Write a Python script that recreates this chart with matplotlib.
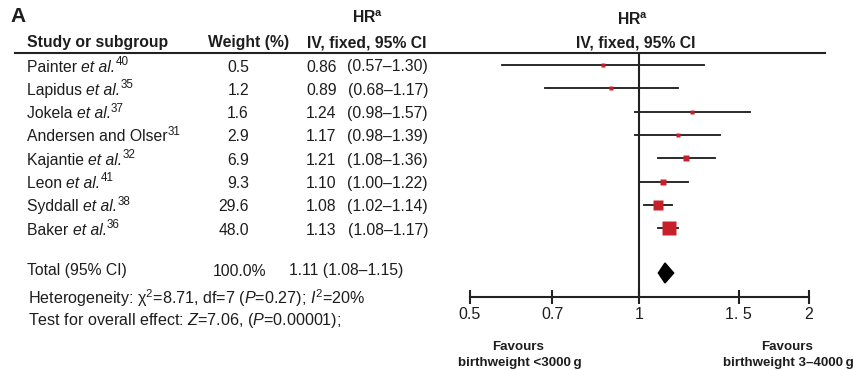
import matplotlib
matplotlib.use("Agg")
import matplotlib.pyplot as plt
from matplotlib.lines import Line2D
import numpy as np

plt.rcParams['font.family'] = ['Liberation Sans', 'DejaVu Sans']
plt.rcParams['mathtext.fontset'] = 'custom'
plt.rcParams['mathtext.rm'] = 'Liberation Sans'
plt.rcParams['mathtext.it'] = 'Liberation Sans:italic'
plt.rcParams['mathtext.bf'] = 'Liberation Sans:bold'
plt.rcParams['mathtext.default'] = 'rm'

# ---------------- data ----------------
studies = ["Painter", "Lapidus", "Jokela", "Andersen and Olser", "Kajantie", "Leon", "Syddall", "Baker"]
refs = [40, 35, 37, 31, 32, 41, 38, 36]
has_etal = [True, True, True, False, True, True, True, True]
weights = [0.5, 1.2, 1.6, 2.9, 6.9, 9.3, 29.6, 48.0]
hr = [0.86, 0.89, 1.24, 1.17, 1.21, 1.10, 1.08, 1.13]
ci_lo = [0.57, 0.68, 0.98, 0.98, 1.08, 1.00, 1.02, 1.08]
ci_hi = [1.30, 1.17, 1.57, 1.39, 1.36, 1.22, 1.14, 1.17]
total_weight = "100.0%"
total_hr, total_lo, total_hi = 1.11, 1.08, 1.15
tick_values = [0.5, 0.7, 1, 1.5, 2]
tick_labels = ["0.5", "0.7", "1", "1. 5", "2"]

W, H = 854, 370
fig = plt.figure(figsize=(W / 100, H / 100), dpi=100)
renderer = fig.canvas.get_renderer()
TXT = '#1e1c1d'

def ft(x, y, s, **kw):
    kw.setdefault('color', TXT)
    kw.setdefault('va', 'center')
    return fig.text(x / W, 1 - y / H, s, **kw)

def seq(x, y, parts, fs):
    """parts: list of (text, style, is_super)"""
    for s, style, sup in parts:
        size = fs * 0.74 if sup else fs
        yy = y - fs * 0.45 if sup else y
        t = ft(x, yy, s, fontsize=size, fontstyle=style)
        bb = t.get_window_extent(renderer=renderer)
        x += bb.width

FS = 11.3
# headers
ft(10, 17, "A", fontsize=15, fontweight='bold')
ft(368, 18, r"HR$^{\mathbf{a}}$", fontsize=FS, fontweight='bold', ha='center')
ft(367, 43, "IV, fixed, 95% CI", fontsize=FS, fontweight='bold', ha='center')
ft(27, 43, "Study or subgroup", fontsize=FS, fontweight='bold')
ft(249, 43, "Weight (%)", fontsize=FS, fontweight='bold', ha='center')
ft(633, 20, r"HR$^{\mathbf{a}}$", fontsize=FS, fontweight='bold', ha='center')
ft(636, 43, "IV, fixed, 95% CI", fontsize=FS, fontweight='bold', ha='center')

fig.add_artist(Line2D([15 / W, 825 / W], [1 - 53 / H, 1 - 53 / H],
                      transform=fig.transFigure, color='#222222', lw=1.5))

# study rows
row_y = 67
row_dy = 23.3
for i, name in enumerate(studies):
    y = row_y + i * row_dy
    if has_etal[i]:
        parts = [(name + " ", 'normal', False), ("et al.", 'italic', False), (str(refs[i]), 'normal', True)]
    else:
        parts = [(name, 'normal', False), (str(refs[i]), 'normal', True)]
    seq(27, y, parts, FS)
    ft(249, y, f"{weights[i]:.1f}", fontsize=FS, ha='right')
    ft(306, y, f"{hr[i]:.2f}", fontsize=FS)
    ft(428, y, f"({ci_lo[i]:.2f}\u2013{ci_hi[i]:.2f})", fontsize=FS, ha='right')

ft(27, 271, "Total (95% CI)", fontsize=FS)
ft(213, 271, total_weight, fontsize=FS)
ft(289, 271, f"{total_hr:.2f} ({total_lo:.2f}\u2013{total_hi:.2f})", fontsize=FS)
ft(28, 298, r"Heterogeneity: $\chi^2$=8.71, df=7 ($\mathit{P}$=0.27); $\mathit{I}^2$=20%", fontsize=FS + 0.3)
ft(28, 321, r"Test for overall effect: $\mathit{Z}$=7.06, ($\mathit{P}$=0.00001);", fontsize=FS + 0.3)

# forest axes
ax_top, ax_bot = 53, 297
ax = fig.add_axes([470 / W, 1 - ax_bot / H, 339 / W, (ax_bot - ax_top) / H])
ax.set_xscale('log')
ax.set_xlim(0.5, 2)
y0 = (ax_top - 65) / row_dy
y1 = (ax_bot - 65) / row_dy
ax.set_ylim(y1, y0)
ax.patch.set_alpha(0)
for s in ['top', 'left', 'right']:
    ax.spines[s].set_visible(False)
ax.spines['bottom'].set_linewidth(1.5)
ax.spines['bottom'].set_color('#222222')
ax.set_yticks([])
ax.xaxis.set_minor_locator(matplotlib.ticker.NullLocator())
ax.set_xticks(tick_values)
ax.set_xticklabels(tick_labels)
ax.tick_params(axis='x', direction='inout', length=10, width=1.5, color='#222222',
               labelsize=11.5, labelcolor=TXT, pad=2)
ax.axvline(1, color='#222222', lw=1.5, zorder=1)

for i in range(len(studies)):
    ax.plot([ci_lo[i], ci_hi[i]], [i, i], color='#222222', lw=1.35, zorder=2)
    side_px = 14 * np.sqrt(weights[i] / max(weights))
    ax.plot(hr[i], i, marker='s', ms=max(side_px, 3.4) * 0.72, color='#c8202a',
            mec='none', zorder=3)

yt = (273 - 65) / row_dy
dh = 10 / row_dy
ax.fill([total_lo, total_hr, total_hi, total_hr],
        [yt, yt - dh, yt, yt + dh], color='black', zorder=3)

FB = 9.6
ft(518, 347, "Favours", fontsize=FB, fontweight='bold', ha='center')
ft(520, 363, "birthweight <3000\u2009g", fontsize=FB, fontweight='bold', ha='center')
ft(787, 347, "Favours", fontsize=FB, fontweight='bold', ha='center')
ft(788, 363, "birthweight 3\u20134000\u2009g", fontsize=FB, fontweight='bold', ha='center')

fig.savefig("out.png", dpi=100)
